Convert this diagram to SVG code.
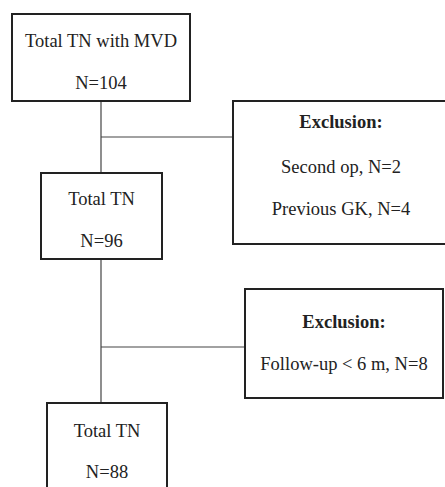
<svg xmlns="http://www.w3.org/2000/svg" width="445" height="487" viewBox="0 0 445 487">
<style>
.box{fill:#fff;stroke:#222;stroke-width:2}
.conn{stroke:#444;stroke-width:1.2;fill:none}
text{font-family:"Liberation Serif","Times New Roman",serif;font-size:18.5px;fill:#222;text-anchor:middle}
.b{font-weight:bold}
</style>
<rect width="445" height="487" fill="#fff"/>
<g id="connectors">
<line class="conn" x1="101" y1="101" x2="101" y2="403"/>
<line class="conn" x1="101" y1="137" x2="233" y2="137"/>
<line class="conn" x1="101" y1="347" x2="245" y2="347"/>
</g>
<g id="n1">
<rect class="box" x="12" y="14" width="178" height="87"/>
<text x="101" y="47">Total TN with MVD</text>
<text x="101" y="89">N=104</text>
</g>
<g id="ex1">
<rect class="box" x="233" y="101" width="220" height="143"/>
<text class="b" x="341" y="128">Exclusion:</text>
<text x="341" y="173">Second op, N=2</text>
<text x="341" y="215">Previous GK, N=4</text>
</g>
<g id="n2">
<rect class="box" x="41" y="173" width="121" height="86"/>
<text x="101.5" y="205">Total TN</text>
<text x="101.5" y="247">N=96</text>
</g>
<g id="ex2">
<rect class="box" x="245" y="289" width="198" height="109"/>
<text class="b" x="344" y="328">Exclusion:</text>
<text x="344" y="370">Follow-up &lt; 6 m, N=8</text>
</g>
<g id="n3">
<rect class="box" x="47" y="403" width="120" height="100"/>
<text x="107" y="437">Total TN</text>
<text x="107" y="478">N=88</text>
</g>
</svg>
